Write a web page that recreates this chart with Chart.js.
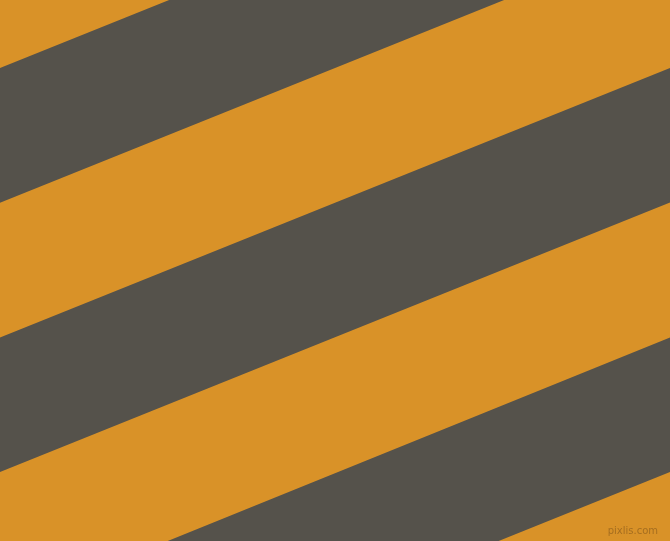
<!DOCTYPE html>
<html>
<head>
<meta charset="utf-8">
<script src="https://cdn.jsdelivr.net/npm/chart.js@4/dist/chart.umd.min.js"></script>
<style>
  html, body { margin: 0; padding: 0; background: #D99228; overflow: hidden; }
  #c { display: block; background: #D99228; }
</style>
</head>
<body>
<canvas id="c" width="670" height="541"></canvas>
<script>
// Boundary lines of the dark stripes: y at the left edge and y at the right edge
const bandTopLeft     = [68.0, 337.4, 609.0];
const bandBottomLeft  = [202.7, 472.0, 741.5];
const bandTopRight    = [-201.4, 68.0, 337.4];
const bandBottomRight = [-66.7, 202.6, 472.1];
const edgeX = [0, 670];
const watermark = 'pixlis.com';

const GRAY = '#55524B';

const datasets = [];
for (let i = 0; i < bandTopLeft.length; i++) {
  datasets.push({
    data: [{x: edgeX[0], y: bandTopLeft[i]}, {x: edgeX[1], y: bandTopRight[i]}],
    borderWidth: 0, borderColor: 'rgba(0,0,0,0)', pointRadius: 0, fill: false
  });
  datasets.push({
    data: [{x: edgeX[0], y: bandBottomLeft[i]}, {x: edgeX[1], y: bandBottomRight[i]}],
    borderWidth: 0, borderColor: 'rgba(0,0,0,0)', pointRadius: 0,
    backgroundColor: GRAY, fill: '-1'
  });
}

const watermarkPlugin = {
  id: 'watermark',
  afterDraw(chart) {
    const ctx = chart.ctx;
    ctx.save();
    ctx.font = '10px "DejaVu Sans", sans-serif';
    ctx.fillStyle = 'rgba(130,85,25,0.6)';
    ctx.textAlign = 'right';
    ctx.textBaseline = 'alphabetic';
    ctx.fillText(watermark, 658, 534);
    ctx.restore();
  }
};

new Chart(document.getElementById('c'), {
  type: 'line',
  data: { datasets },
  options: {
    responsive: false,
    animation: false,
    devicePixelRatio: 1,
    layout: { padding: 0 },
    plugins: { legend: { display: false }, tooltip: { enabled: false }, title: { display: false } },
    scales: {
      x: { type: 'linear', min: 0, max: 670, display: false },
      y: { type: 'linear', min: 0, max: 541, reverse: true, display: false }
    },
    elements: { line: { tension: 0 } }
  },
  plugins: [watermarkPlugin]
});
</script>
</body>
</html>
